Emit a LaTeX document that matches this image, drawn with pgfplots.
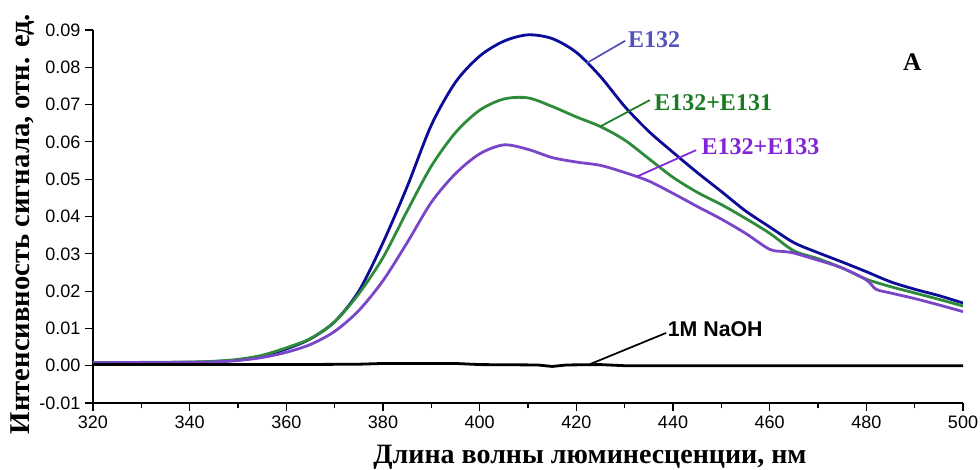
\documentclass[border=0pt]{standalone}
\usepackage{fontspec}
\setmainfont{Liberation Serif}
\newfontfamily\arial{Liberation Sans}
\usepackage{pgfplots}
\pgfplotsset{compat=1.18}
\definecolor{cblue}{HTML}{0C0C98}
\definecolor{cgreen}{HTML}{2E8B3A}
\definecolor{cpurple}{HTML}{7A46C8}
\definecolor{lblue}{HTML}{5252B8}
\definecolor{lgreen}{HTML}{1B7B22}
\definecolor{lpurple}{HTML}{8024D6}
\begin{document}
\begin{tikzpicture}
\begin{axis}[name=ax, scale only axis, width=652.5pt, height=279.75pt,
  xmin=320, xmax=500, ymin=-0.01, ymax=0.09,
  axis lines=left, axis line style={-, line width=0.8pt},
  xtick={320,340,...,500}, minor xtick={330,350,...,490},
  ytick={-0.01,0,0.01,0.02,0.03,0.04,0.05,0.06,0.07,0.08,0.09},
  tick align=outside, major tick length=6pt, minor tick length=4pt,
  tick style={line width=0.8pt, black},
  tick label style={font=\arial\fontsize{13.5}{15}\selectfont},
  yticklabel style={/pgf/number format/.cd, fixed, fixed zerofill, precision=2, assume math mode=true},
  xticklabel style={/pgf/number format/assume math mode=true},
  scaled y ticks=false,
  xlabel={Длина волны люминесценции, нм},
  ylabel={Интенсивность сигнала, отн. ед.},
  every axis x label/.style={at={(rel axis cs:0.5,0)}, xshift=46.5pt, yshift=-40.5pt, anchor=center, font=\bfseries\fontsize{21}{24}\selectfont},
  every axis y label/.style={at={(rel axis cs:0,0.5)}, xshift=-53pt, yshift=-5.6pt, rotate=90, anchor=center, font=\bfseries\fontsize{21.5}{24}\selectfont},
  every axis plot/.append style={line width=2.1pt, line join=round, smooth, tension=0.5},
]
\addplot[cblue] coordinates {
(320,0.0008)(330,0.0008)(340,0.0009)(345,0.0011)(350,0.0015)(355,0.0025)(360,0.0045)(365,0.0072)(370,0.0118)(375,0.0200)(380,0.0330)(385,0.0480)(390,0.0645)(395,0.0760)(400,0.0830)(405,0.0870)(410,0.0887)(415,0.0877)(420,0.0840)(425,0.0775)(430,0.0695)(435,0.0628)(440,0.0572)(445,0.0518)(450,0.0467)(455,0.0415)(460,0.0372)(465,0.0330)(470,0.0303)(475,0.0278)(480,0.0252)(485,0.0225)(490,0.0205)(495,0.0188)(500,0.0168)};
\addplot[cgreen] coordinates {
(320,0.0008)(340,0.0010)(345,0.0012)(350,0.0017)(355,0.0028)(360,0.0048)(365,0.0073)(370,0.0118)(375,0.0193)(380,0.0290)(385,0.0415)(390,0.0535)(395,0.0625)(400,0.0685)(405,0.0715)(410,0.0718)(415,0.0695)(420,0.0667)(425,0.0641)(430,0.0605)(435,0.0555)(440,0.0505)(445,0.0465)(450,0.0432)(455,0.0395)(460,0.0355)(465,0.0308)(470,0.0287)(475,0.0262)(480,0.0232)(485,0.0212)(490,0.0195)(495,0.0178)(500,0.0160)};
\addplot[cpurple] coordinates {
(320,0.0008)(340,0.0009)(345,0.0010)(350,0.0014)(355,0.0022)(360,0.0036)(365,0.0057)(370,0.0092)(375,0.0148)(380,0.0228)(385,0.0330)(390,0.0438)(395,0.0515)(400,0.0568)(405,0.0592)(410,0.0580)(415,0.0558)(420,0.0546)(425,0.0537)(430,0.0518)(435,0.0495)(440,0.0462)(445,0.0427)(450,0.0393)(455,0.0355)(460,0.0312)(463,0.0306)(465,0.0302)(470,0.0283)(475,0.0262)(480,0.0230)(482,0.0205)(485,0.0195)(490,0.0180)(495,0.0163)(500,0.0145)};
\addplot[black, sharp plot] coordinates {
(320,0.0003)(340,0.0003)(360,0.0003)(375,0.0004)(380,0.0006)(395,0.0006)(400,0.0003)(412,0.0002)(415,-0.0002)(418,0.0002)(425,0.0003)(430,0.0000)(500,0.0000)};
\draw[lblue, line width=1.3pt] (axis cs:422.1,0.0811) -- (axis cs:430.1,0.0871);
\node[anchor=west, text=lblue, font=\bfseries\fontsize{18}{20}\selectfont, inner sep=1pt] at (axis cs:430.4,0.0875) {E132};
\draw[lgreen, line width=1.3pt] (axis cs:424.9,0.0641) -- (axis cs:435.2,0.0712);
\node[anchor=west, text=lgreen, font=\bfseries\fontsize{18}{20}\selectfont, inner sep=1pt] at (axis cs:435.8,0.0704) {E132+E131};
\draw[lpurple, line width=1.3pt] (axis cs:432.5,0.0507) -- (axis cs:444.8,0.0578);
\node[anchor=west, text=lpurple, font=\bfseries\fontsize{18}{20}\selectfont, inner sep=1pt] at (axis cs:445.6,0.0588) {E132+E133};
\draw[black, line width=1.3pt] (axis cs:422.8,0.0004) -- (axis cs:438.6,0.0088);
\node[anchor=west, text=black, font=\arial\bfseries\fontsize{16}{18}\selectfont, inner sep=1pt] at (axis cs:438.6,0.0098) {1M NaOH};
\node[font=\bfseries\fontsize{19}{21}\selectfont] at (axis cs:489.5,0.0814) {A};
\end{axis}
\pgfresetboundingbox
\path ([xshift=-69.75pt,yshift=-49.5pt]ax.south west) rectangle ([xshift=12.75pt,yshift=22.5pt]ax.north east);
\end{tikzpicture}
\end{document}
